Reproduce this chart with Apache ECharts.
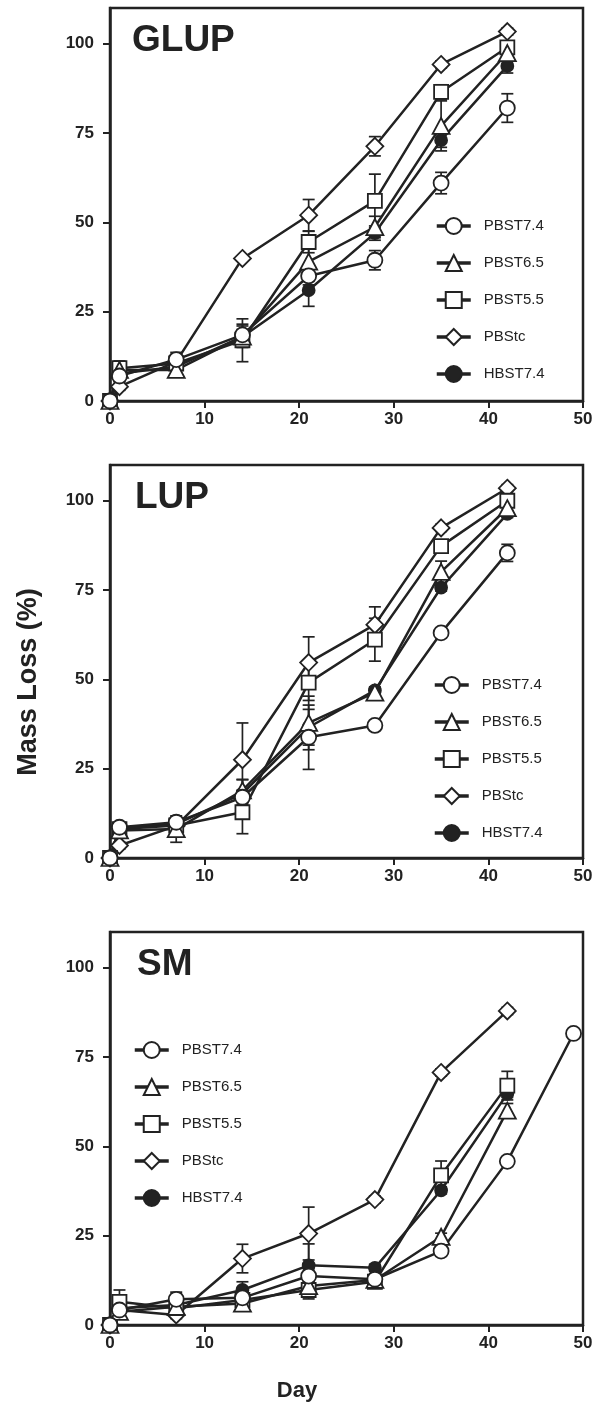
<!DOCTYPE html>
<html>
<head>
<meta charset="utf-8">
<script src="https://cdn.jsdelivr.net/npm/echarts@6/dist/echarts.min.js"></script>
<style>
html,body{margin:0;padding:0;background:#fff;}
#chart{width:603px;height:1403px;}
</style>
</head>
<body>
<div id="chart"></div>
<script>
// ---------- DATA ----------
const seriesNames = ['PBST7.4', 'PBST6.5', 'PBST5.5', 'PBStc', 'HBST7.4'];
const panelTitles = ['GLUP', 'LUP', 'SM'];
const xTickValues = [0, 10, 20, 30, 40, 50];
const yTickValues = [0, 25, 50, 75, 100];
const xAxisTitle = 'Day';
const yAxisTitle = 'Mass Loss (%)';

// GLUP
const daysGLUP = [0, 1, 7, 14, 21, 28, 35, 42];
const glupPBST74 = [0, 7.0, 11.6, 18.5, 35.0, 39.4, 61.0, 82.0];
const glupPBST65 = [0, 8.7, 8.7, 18.0, 39.0, 48.7, 77.0, 97.4];
const glupPBST55 = [0, 9.2, 10.5, 17.0, 44.5, 56.0, 86.5, 99.0];
const glupPBStc  = [0, 4.0, 11.0, 39.9, 52.0, 71.3, 94.2, 103.4];
const glupHBST74 = [0, 7.7, 9.6, 18.0, 31.0, 47.0, 73.0, 93.8];
const glupErrPBST74 = [0, 1.5, 2.0, 3.0, 2.5, 2.7, 3.0, 4.0];
const glupErrPBST65 = [0, 1.5, 1.5, 3.0, 4.0, 3.0, 7.0, 2.0];
const glupErrPBST55 = [0, 2.0, 2.0, 6.0, 3.0, 7.5, 2.0, 1.5];
const glupErrPBStc  = [0, 1.0, 1.5, 0, 4.4, 2.7, 1.0, 1.0];
const glupErrHBST74 = [0, 1.5, 2.0, 2.0, 4.5, 2.0, 2.0, 2.0];

// LUP
const daysLUP = [0, 1, 7, 14, 21, 28, 35, 42];
const lupPBST74 = [0, 8.6, 10.0, 17.0, 33.8, 37.1, 63.0, 85.4];
const lupPBST65 = [0, 7.7, 8.1, 18.9, 37.8, 46.3, 80.1, 97.9];
const lupPBST55 = [0, 8.1, 9.1, 12.8, 49.1, 61.1, 87.3, 100.0];
const lupPBStc  = [0, 3.5, 9.0, 27.5, 54.7, 65.3, 92.4, 103.5];
const lupHBST74 = [0, 8.4, 9.5, 18.0, 36.6, 46.9, 75.7, 96.3];
const lupErrPBST74 = [0, 1.0, 1.0, 2.0, 9.0, 1.0, 1.0, 2.4];
const lupErrPBST65 = [0, 1.0, 3.7, 3.0, 7.5, 1.0, 3.0, 1.0];
const lupErrPBST55 = [0, 1.0, 1.0, 6.0, 5.0, 6.0, 1.0, 1.0];
const lupErrPBStc  = [0, 1.0, 1.0, 10.3, 7.2, 5.0, 1.0, 1.0];
const lupErrHBST74 = [0, 1.0, 1.0, 4.0, 5.0, 1.0, 1.0, 1.0];

// SM
const daysSM = [0, 1, 7, 14, 21, 28, 35, 42, 49];
const smPBST74 = [0, 4.2, 7.2, 7.6, 13.7, 12.8, 20.7, 45.8, 81.6];
const smPBST65 = [0, 3.7, 5.1, 6.0, 10.9, 12.6, 24.7, 60.0, null];
const smPBST55 = [0, 6.5, 4.7, 7.0, 9.8, 12.1, 41.9, 67.0, null];
const smPBStc  = [0, 4.2, 2.8, 18.6, 25.6, 35.1, 70.7, 87.9, null];
const smHBST74 = [0, 4.7, 5.6, 9.8, 16.7, 16.0, 37.7, 64.7, null];
const smErrPBST74 = [0, 1.0, 2.0, 2.0, 2.0, 1.0, 1.0, 1.0, 1.0];
const smErrPBST65 = [0, 1.0, 1.0, 2.0, 2.0, 1.0, 1.0, 2.0, 0];
const smErrPBST55 = [0, 3.3, 1.0, 1.0, 2.5, 1.0, 4.0, 4.0, 0];
const smErrPBStc  = [0, 1.0, 1.0, 4.0, 7.4, 1.0, 1.0, 1.0, 0];
const smErrHBST74 = [0, 1.0, 1.0, 2.3, 6.0, 1.0, 1.0, 1.0, 0];

// ---------- ASSEMBLY ----------
const panels = [
  { days: daysGLUP, vals: [glupPBST74, glupPBST65, glupPBST55, glupPBStc, glupHBST74],
    errs: [glupErrPBST74, glupErrPBST65, glupErrPBST55, glupErrPBStc, glupErrHBST74] },
  { days: daysLUP, vals: [lupPBST74, lupPBST65, lupPBST55, lupPBStc, lupHBST74],
    errs: [lupErrPBST74, lupErrPBST65, lupErrPBST55, lupErrPBStc, lupErrHBST74] },
  { days: daysSM, vals: [smPBST74, smPBST65, smPBST55, smPBStc, smHBST74],
    errs: [smErrPBST74, smErrPBST65, smErrPBST55, smErrPBStc, smErrHBST74] }
];

const INK = '#222';
const FONT = '"Liberation Sans", Arial, Helvetica, sans-serif';
const gridTops = [8, 465, 932];
const gridH = 393;
const GL = 110, GR = 20;

const styles = [
  { symbol: 'circle',   size: 15, fill: '#fff' },
  { symbol: 'triangle', size: [17, 16], fill: '#fff' },
  { symbol: 'rect',     size: 14, fill: '#fff' },
  { symbol: 'diamond',  size: 17, fill: '#fff' },
  { symbol: 'circle',   size: 12, fill: INK }
];

const grids = [], xAxes = [], yAxes = [], series = [], legends = [], graphics = [];

const legendPos = [
  { left: 430, top: 212 },
  { left: 428, top: 671 },
  { left: 128, top: 1036 }
];

function renderErr(params, api) {
  const x = api.value(0), y = api.value(1), e = api.value(2);
  if (!(e > 0)) return null;
  const t = api.coord([x, y + e]);
  const b = api.coord([x, y - e]);
  const w = 6;
  const st = { stroke: INK, lineWidth: 1.7 };
  return {
    type: 'group',
    children: [
      { type: 'line', shape: { x1: t[0], y1: t[1], x2: b[0], y2: b[1] }, style: st },
      { type: 'line', shape: { x1: t[0] - w, y1: t[1], x2: t[0] + w, y2: t[1] }, style: st },
      { type: 'line', shape: { x1: b[0] - w, y1: b[1], x2: b[0] + w, y2: b[1] }, style: st }
    ]
  };
}

panels.forEach((p, gi) => {
  grids.push({ left: GL, right: GR, top: gridTops[gi], height: gridH,
    show: true, borderColor: INK, borderWidth: 2.5, backgroundColor: 'transparent' });
  xAxes.push({
    type: 'value', gridIndex: gi, min: 0, max: 50, interval: 10,
    axisLine: { show: true, onZero: false, lineStyle: { color: INK, width: 2.5 } },
    axisTick: { show: true, inside: false, length: 7, lineStyle: { color: INK, width: 2 } },
    axisLabel: { color: INK, fontFamily: FONT, fontWeight: 'bold', fontSize: 17, margin: 10 },
    splitLine: { show: false }
  });
  yAxes.push({
    type: 'value', gridIndex: gi, min: 0, max: 110, interval: 25,
    axisLine: { show: true, onZero: false, lineStyle: { color: INK, width: 2.5 } },
    axisTick: { show: true, inside: false, length: 7, lineStyle: { color: INK, width: 2 },
      customValues: yTickValues },
    axisLabel: { color: INK, fontFamily: FONT, fontWeight: 'bold', fontSize: 17, margin: 16,
      customValues: yTickValues },
    splitLine: { show: false }
  });

  // error bars (below lines)
  const errData = [];
  p.vals.forEach((v, si) => {
    p.days.forEach((d, k) => {
      if (v[k] != null && p.errs[si][k] > 0) errData.push([d, v[k], p.errs[si][k]]);
    });
  });
  series.push({
    type: 'custom', xAxisIndex: gi, yAxisIndex: gi, z: 1, silent: true,
    renderItem: renderErr, data: errData, encode: { x: 0, y: 1 }, clip: false
  });

  // lines, drawn from HBST7.4 up to PBST7.4 (last on top)
  for (let si = seriesNames.length - 1; si >= 0; si--) {
    const s = styles[si];
    const data = [];
    p.days.forEach((d, k) => { if (p.vals[si][k] != null) data.push([d, p.vals[si][k]]); });
    series.push({
      name: seriesNames[si], type: 'line', xAxisIndex: gi, yAxisIndex: gi, z: 2,
      data: data, symbol: s.symbol, symbolSize: s.size, showAllSymbol: true,
      lineStyle: { color: INK, width: 2.5 },
      itemStyle: { color: s.fill, borderColor: INK, borderWidth: 1.8 },
      emphasis: { disabled: true }, animation: false, clip: false
    });
  }

  legends.push({
    orient: 'vertical', left: legendPos[gi].left, top: legendPos[gi].top,
    data: seriesNames, itemWidth: 34, itemHeight: 20, itemGap: 19,
    selectedMode: false,
    lineStyle: { width: 3.5 },
    textStyle: { color: INK, fontFamily: FONT, fontSize: 15, padding: [0, 0, 0, 8] }
  });

  graphics.push({
    type: 'text', left: 132 + (gi === 0 ? 0 : gi === 1 ? 3 : 5), top: gridTops[gi] + 14,
    style: { text: panelTitles[gi], font: 'bold 37px ' + FONT, fill: INK }
  });
});

graphics.push({
  type: 'text', x: 29, y: 682, rotation: Math.PI / 2,
  style: { text: yAxisTitle, font: 'bold 27px ' + FONT, fill: INK,
    textAlign: 'center', textVerticalAlign: 'middle' }
});
graphics.push({
  type: 'text', x: 297, y: 1391,
  style: { text: xAxisTitle, font: 'bold 22px ' + FONT, fill: INK,
    textAlign: 'center', textVerticalAlign: 'middle' }
});

const chart = echarts.init(document.getElementById('chart'), null, { renderer: 'canvas' });
chart.setOption({
  animation: false,
  backgroundColor: '#fff',
  grid: grids, xAxis: xAxes, yAxis: yAxes,
  legend: legends, series: series, graphic: graphics
});
</script>
</body>
</html>
